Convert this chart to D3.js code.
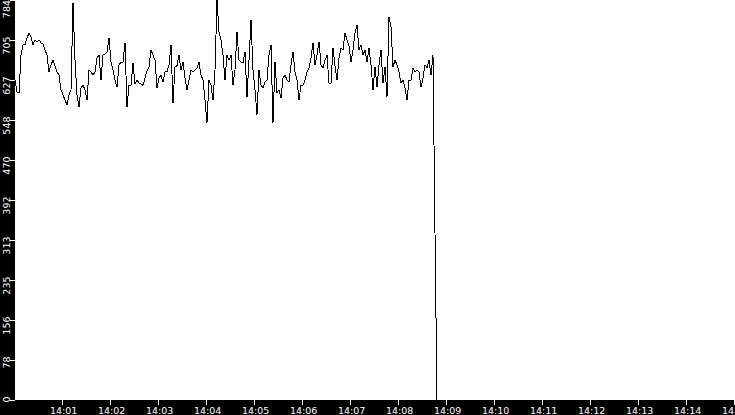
<!DOCTYPE html>
<html>
<head>
<meta charset="utf-8">
<script src="https://cdn.jsdelivr.net/npm/d3@7"></script>
<style>
  html, body { margin: 0; padding: 0; background: #000; }
  svg { display: block; }
  text { font-family: "DejaVu Sans", sans-serif; font-size: 9.5px; fill: #fff; }
</style>
</head>
<body>
<svg width="735" height="415"></svg>
<script>
// samples every 2.5 s starting 14:00:01
const startTime = '14:00:01'
const stepSeconds = 2.5
const endTime = '14:15:01'
const values = [
  627, 604, 602, 676, 696, 696, 710, 719, 711, 696, 706, 702, 706, 700, 698, 686, 676, 643,
  657, 666, 655, 643, 637, 608, 598, 588, 578, 598, 608, 778, 666, 598, 574, 612, 617, 608,
  588, 647, 643, 637, 643, 670, 676, 627, 676, 678, 682, 710, 662, 647, 627, 613, 657, 662,
  662, 700, 574, 617, 617, 661, 619, 627, 621, 619, 617, 631, 645, 653, 686, 676, 666, 612,
  631, 637, 623, 643, 643, 657, 696, 582, 653, 655, 676, 647, 662, 631, 608, 627, 647, 643,
  647, 651, 662, 637, 627, 588, 543, 627, 617, 588, 647, 784, 721, 706, 676, 627,
  676, 666, 676, 617, 647, 721, 666, 662, 661, 682, 594, 666, 745, 647, 608, 559, 647, 617,
  612, 623, 627, 676, 696, 543, 662, 602, 608, 592, 631, 637, 627, 623, 657, 682, 643, 627,
  588, 617, 617, 627, 643, 651, 670, 700, 657, 676, 702, 657, 651, 666, 676, 621,
  621, 690, 655, 627, 670, 690, 686, 719, 706, 694, 662, 686, 719, 735, 686, 696, 676, 686,
  662, 690, 657, 608, 653, 613, 657, 686, 621, 653, 594, 751, 731, 653, 666, 657, 643, 621,
  627, 612, 588, 627, 627, 651, 643, 647, 643, 613, 631, 657, 651, 666, 637, 676, 327, 0
]
const yMax = 784
const yTickCount = 10

const svg = d3.select('svg')
const width = +svg.attr('width')
const height = +svg.attr('height')
const margin = {top: 0, left: 15, bottom: 15, right: 0}
const plotW = width - margin.left - margin.right
const plotH = height - margin.top - margin.bottom

const parseTime = t => {
  const [h, m, s] = t.split(':').map(Number)
  return new Date(2000, 0, 1, h, m, s)
}
const t0 = parseTime(startTime)
const data = values.map((v, i) => ({
  time: new Date(t0.getTime() + i * stepSeconds * 1000),
  value: v
}))

const xScale = d3.scaleTime()
  .domain([t0, parseTime(endTime)])
  .range([0, plotW])
const yScale = d3.scaleLinear()
  .domain([0, yMax])
  .range([plotH, 0])

// white plotting area
svg.append('rect')
  .attr('x', margin.left).attr('y', margin.top)
  .attr('width', plotW).attr('height', plotH)
  .attr('fill', '#fff')

const g = svg.append('g')
  .attr('transform', `translate(${margin.left}, ${margin.top})`)

// y ticks: max split in ten, labels truncated
const yTicks = d3.range(yTickCount + 1).map(i => yMax * i / yTickCount)
const yt = g.append('g').selectAll('g').data(yTicks).enter().append('g')
yt.append('line')
  .attr('x1', -5).attr('x2', 0)
  .attr('y1', d => Math.round(yScale(d)) + 0.5)
  .attr('y2', d => Math.round(yScale(d)) + 0.5)
  .attr('stroke', '#fff')
yt.append('text')
  .attr('text-anchor', 'end')
  .attr('transform', d => `translate(-5.5, ${Math.max(yScale(d) - 3.5, 0)}) rotate(-90)`)
  .text(d => Math.floor(d))

// x ticks every minute
const xTicks = xScale.ticks(d3.timeMinute.every(1))
const fmt = d3.timeFormat('%H:%M')
const xt = g.append('g').attr('transform', `translate(0, ${plotH})`)
  .selectAll('g').data(xTicks).enter().append('g')
xt.append('line')
  .attr('x1', d => Math.round(xScale(d)) + 0.5)
  .attr('x2', d => Math.round(xScale(d)) + 0.5)
  .attr('y1', 0).attr('y2', 5)
  .attr('stroke', '#fff')
xt.append('text')
  .attr('x', d => xScale(d) + 1.5)
  .attr('y', 14)
  .attr('text-anchor', 'middle')
  .text(fmt)

const lineGen = d3.line()
  .x(d => xScale(d.time))
  .y(d => yScale(d.value))

g.append('path')
  .datum(data)
  .attr('d', lineGen)
  .attr('fill', 'none')
  .attr('stroke', '#000')
  .attr('stroke-width', 1)
  .attr('shape-rendering', 'crispEdges')
</script>
</body>
</html>
